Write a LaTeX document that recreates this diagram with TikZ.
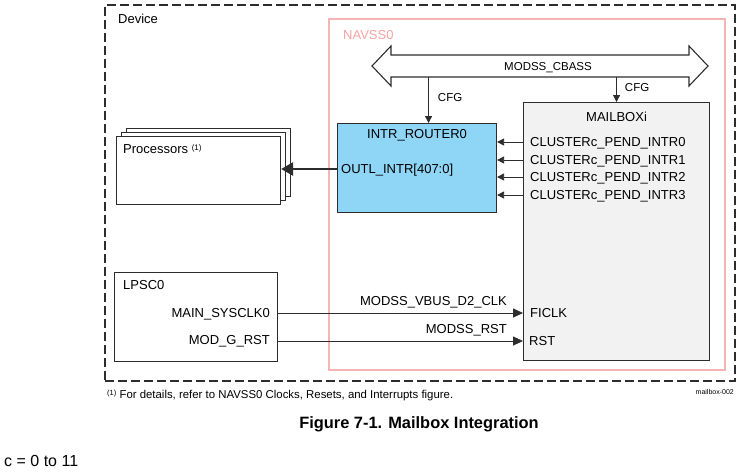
\documentclass[tikz,border=0pt]{standalone}
\usepackage{fontspec}
\setmainfont{Liberation Sans}
\usepackage{xcolor}
\usepackage{tikz}
\usetikzlibrary{positioning,arrows.meta,calc}
\definecolor{navpink}{RGB}{246,180,180}
\definecolor{routerblue}{RGB}{143,213,245}
\definecolor{mbgray}{RGB}{242,242,242}
\definecolor{ln}{RGB}{45,45,45}
\newcommand{\fs}[1]{\fontsize{#1}{#1}\selectfont}

\begin{document}
\begin{tikzpicture}
	[x=1pt,y=-1pt,
	box/.style={draw=ln,line width=1.1pt,anchor=north west,inner sep=0pt},
	lbl/.style={inner sep=0pt,text height=9.3pt,text depth=0pt,font=\fs{13}},
	sml/.style={inner sep=0pt,text height=8.2pt,text depth=0pt,font=\fs{11.5}},
	sig/.style={draw=ln,line width=0.8pt,-{Triangle[length=7pt,width=7pt]}},
	bigsig/.style={draw=ln,line width=0.8pt,-{Triangle[length=10pt,width=9pt]}},
	outsig/.style={draw=ln,line width=2.4pt,-{Triangle[length=12pt,width=13pt]}}]
	\useasboundingbox (0,0) rectangle (754,474);
	%%%%% DEVICE AND NAVSS0
	\node[box,draw=ln,line width=1.5pt,dash pattern=on 9pt off 4pt,
		minimum width=630pt,minimum height=376pt] (device) at (104,4) {};
	\node[lbl,anchor=west] (devlbl) at (118,19) {Device};
	\node[box,draw=navpink,line width=1.5pt,minimum width=396pt,minimum height=351pt] (navss) at (328,18) {};
	\node[lbl,anchor=west,text=navpink!90!red] (navlbl) at (343,35) {NAVSS0};
	%%%%% BUS
	\draw[ln,line width=1.1pt,fill=white] (372,66) -- (391,46) -- (391,55) -- (689,55) -- (689,46) -- (708,66)
		-- (689,86) -- (689,77) -- (391,77) -- (391,86) -- cycle;
	\coordinate (bus) at (540,77);
	\node[sml] (cbass) at (548,66) {MODSS\_CBASS};
	%%%%% INTR_ROUTER0
	\node[box,fill=routerblue,minimum width=159pt,minimum height=89pt] (router) at (337,123) {};
	\node[lbl,below=6pt of router.north] (routlbl) {INTR\_ROUTER0};
	\node[lbl,anchor=west] (outl) at (341,169) {OUTL\_INTR[407:0]};
	%%%%% MAILBOXi
	\node[box,fill=mbgray,minimum width=186pt,minimum height=258pt] (mailbox) at (523,102) {};
	\node[lbl,below=10pt of mailbox.north] (mblbl) {MAILBOXi};
	\foreach \i/\y in {0/142,1/160,2/177,3/195}
	{
	\node[lbl,anchor=west] (pend\i) at (530,\y) {CLUSTERc\_PEND\_INTR\i};
	\draw[sig] (mailbox.west |- pend\i) -- (router.east |- pend\i);
	};
	\node[lbl,anchor=west] (ficlk) at (530,313) {FICLK};
	\node[lbl,anchor=west] (rst) at (529,341) {RST};
	%%%%% CFG
	\coordinate (cfgin) at ([xshift=11.5pt]router.north);
	\draw[sig] (bus -| cfgin) -- (cfgin) node[sml,pos=0.45,right=9pt] (cfgA) {CFG};
	\draw[sig] (bus -| mailbox.north) -- (mailbox.north) node[sml,pos=0.4,right=8pt] (cfgB) {CFG};
	%%%%% PROCESSORS
	\foreach \k/\dx in {3/10,2/5,1/0}
	{
	\node[box,fill=white,minimum width=164pt,minimum height=68pt] (proc\k) at (116+\dx,136-\dx*0.8) {};
	};
	\node[lbl,anchor=west] (proclbl) at (123,149) {Processors \raisebox{3.5pt}{\fs{8}(1)}};
	\draw[outsig] (router.west |- outl) -- (proc1.east |- outl);
	%%%%% LPSC0
	\node[box,minimum width=163pt,minimum height=89pt] (lpsc) at (114,272) {};
	\node[lbl,anchor=west] (lpsclbl) at (123,285) {LPSC0};
	\node[lbl,anchor=east] (sysclk) at (270,313) {MAIN\_SYSCLK0};
	\node[lbl,anchor=east] (gotrst) at (270,340) {MOD\_G\_RST};
	\draw[bigsig] (lpsc.east |- ficlk) -- (mailbox.west |- ficlk);
	\draw[bigsig] (lpsc.east |- rst) -- (mailbox.west |- rst);
	\node[lbl,anchor=east] (vbus) at (507,301) {MODSS\_VBUS\_D2\_CLK};
	\node[lbl,anchor=east] (modrst) at (507,329) {MODSS\_RST};
	%%%%% NOTES
	\node[inner sep=0pt,anchor=west,font=\fs{11.4}] (note) at (107,395) {\raisebox{3pt}{\fs{7.5}(1)} For details, refer to NAVSS0 Clocks, Resets, and Interrupts figure.};
	\node[inner sep=0pt,anchor=east,font=\fs{7}] (tag) at (734,392) {mailbox-002};
	\node[inner sep=0pt,font=\bfseries\fs{16.4}] (title) at (419,424) {Figure 7-1. Mailbox Integration};
	\node[inner sep=0pt,anchor=west,font=\fs{16}] (cnote) at (4,461) {c = 0 to 11};
\end{tikzpicture}
\end{document}
